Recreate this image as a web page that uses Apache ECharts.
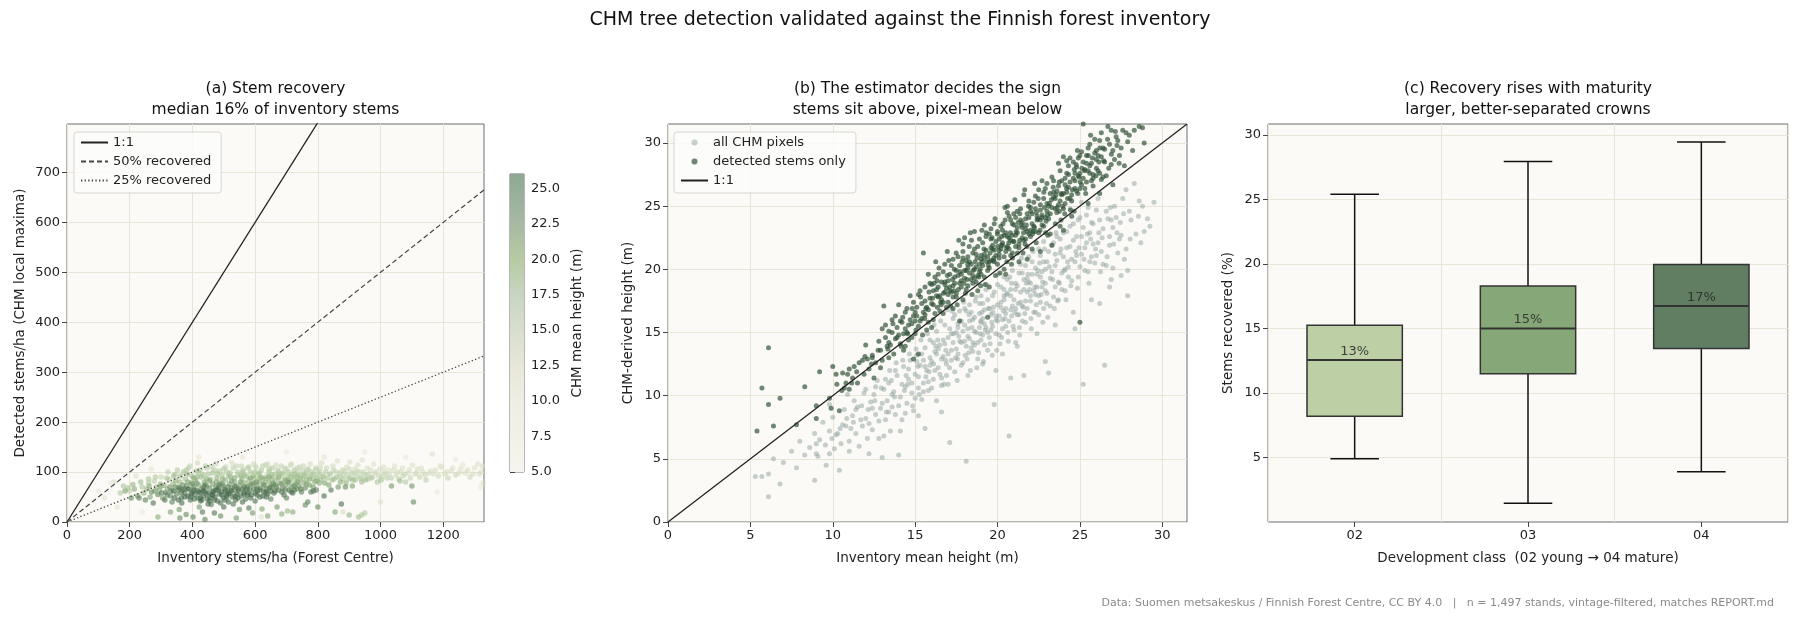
<!DOCTYPE html>
<html>
<head>
<meta charset="utf-8">
<title>CHM tree detection validated against the Finnish forest inventory</title>
<script src="https://cdn.jsdelivr.net/npm/echarts@6/dist/echarts.min.js"></script>
<style>
  html, body { margin: 0; padding: 0; background: #ffffff; }
  #main { width: 1800px; height: 621px; }
</style>
</head>
<body>
<div id="main"></div>
<script>
// ---- data ----
// (a) [inventory stems/ha, detected stems/ha, CHM mean height m]
var stemsA = [
  [150,80,9],[170,58,14],[180,72,15],[195,68,16],[200,62,13],[210,75,17],[225,52,20],[230,48,22],[240,70,15],[245,58,18],
  [255,66,17],[260,78,14],[265,50,19],[270,60,21],[278,82,13],[285,70,16],[290,10,18],[290,55,22],[295,64,19],[300,90,12],
  [305,48,20],[310,73,17],[315,59,23],[320,66,18],[325,85,14],[330,52,21],[335,40,22],[338,76,16],[340,62,24],[345,95,15],
  [350,56,22],[355,70,19],[358,25,20],[360,80,17],[365,48,24],[368,64,21],[372,100,15],[375,58,23],[378,86,16],[380,15,21],
  [382,72,20],[385,52,25],[388,108,13],[390,66,22],[393,44,23],[395,78,18],[398,92,16],[400,60,24],[402,10,22],[405,70,21],
  [408,55,25],[410,84,17],[412,102,14],[415,63,23],[418,48,22],[420,74,19],[422,30,20],[425,58,24],[428,90,16],[430,66,22],
  [432,20,23],[435,52,25],[438,80,18],[440,62,23],[442,112,13],[445,72,20],[448,46,24],[450,96,15],[452,58,25],[455,68,21],
  [458,85,17],[460,35,22],[462,54,24],[465,76,19],[468,62,23],[470,104,14],[472,50,25],[475,70,21],[478,88,17],[480,42,24],
  [482,64,22],[485,56,25],[488,78,18],[490,12,21],[492,60,24],[495,94,15],[498,48,23],[500,72,20],[502,66,23],[505,84,17],
  [508,54,25],[510,100,14],[512,62,22],[515,40,24],[518,76,19],[520,58,23],[522,90,16],[525,68,21],[528,50,25],[530,108,13],
  [532,64,22],[535,80,18],[538,44,24],[540,70,20],[542,56,24],[545,94,15],[548,62,23],[550,25,21],[552,74,19],[555,52,25],
  [558,86,17],[560,66,22],[562,104,14],[565,60,24],[568,78,18],[570,46,23],[572,92,16],[575,70,21],[578,58,24],[580,84,17],
  [583,64,22],[585,100,15],[588,54,23],[590,76,19],[592,18,20],[595,66,22],[598,88,16],[600,58,24],[603,110,13],[605,72,20],
  [608,62,23],[610,96,15],[612,80,18],[615,50,24],[618,68,21],[620,104,14],[622,26,19],[625,86,17],[628,60,23],[630,74,20],
  [633,114,12],[635,66,22],[638,92,16],[640,56,24],[643,80,18],[645,100,15],[648,70,21],[650,62,23],[653,88,17],[655,108,14],
  [658,76,19],[660,58,24],[663,96,15],[665,84,17],[668,70,21],[670,30,20],[672,104,13],[675,64,22],[678,90,16],[680,78,19],
  [683,112,12],[685,16,18],[688,68,21],[690,98,14],[692,54,24],[695,86,17],[698,74,20],[700,106,13],[703,22,17],[705,92,15],
  [708,64,22],[710,80,18],[713,114,12],[715,70,20],[718,96,15],[720,58,23],[723,86,16],[725,104,14],[728,76,19],[730,90,15],
  [733,66,21],[735,100,13],[738,82,17],[740,72,20],[743,110,12],[745,94,15],[748,60,22],[750,86,16],[752,102,13],[755,78,18],
  [758,92,15],[760,68,21],[763,98,14],[765,84,17],[768,40,22],[770,106,12],[773,74,19],[775,92,15],[778,60,23],[780,100,13],
  [783,86,16],[785,70,20],[788,94,14],[790,80,17],[793,104,12],[795,64,22],[798,88,16],[800,30,21],[803,96,14],[805,78,18],
  [808,108,11],[810,84,16],[815,92,14],[820,52,24],[825,100,13],[830,88,15],[835,74,19],[840,96,13],[845,84,16],[850,104,12],
  [855,20,19],[860,90,14],[865,70,20],[870,98,13],[875,36,24],[880,86,15],[885,102,12],[890,78,17],[895,94,13],[900,106,11],
  [905,88,14],[910,72,19],[915,98,12],[920,84,15],[925,102,11],[930,10,16],[935,90,13],[940,80,16],[945,100,12],[950,18,14],
  [955,94,11],[960,86,14],[968,104,10],[975,90,12],[982,98,11],[990,80,15],[998,106,10],[1005,92,12],[1012,100,11],[1020,88,13],
  [1028,96,10],[1035,72,20],[1042,104,10],[1050,94,11],[1058,86,13],[1065,100,10],[1072,92,12],[1080,80,14],[1088,98,10],[1095,88,12],
  [1100,72,20],[1105,40,21],[1110,96,11],[1118,106,9],[1125,90,12],[1135,100,10],[1145,84,13],[1155,98,10],[1165,136,8],[1175,104,9],
  [1185,92,11],[1195,110,9],[1205,96,10],[1215,88,12],[1225,102,9],[1240,94,11],[1255,106,8],[1270,98,10],[1285,90,11],[1300,108,8],
  [1315,96,9],[1325,112,9],[1328,78,10]
];
var stemsA2 = [
  [185,62,19],[205,48,21],[215,66,18],[235,80,16],[250,44,22],[262,72,18],[275,38,23],[282,90,14],[298,76,17],[302,58,22],
  [312,44,24],[318,88,15],[322,100,13],[328,70,20],[332,62,23],[342,48,25],[346,82,18],[352,104,14],[356,64,22],[362,92,16],
  [366,38,24],[370,74,21],[376,50,25],[384,96,16],[386,66,23],[392,112,12],[396,56,25],[404,88,18],[406,46,24],[414,78,20],
  [416,118,11],[420,60,25],[424,104,15],[426,42,23],[434,94,16],[436,70,22],[444,56,25],[446,108,13],[454,82,19],[456,48,24],
  [464,98,15],[466,60,25],[474,116,11],[476,80,19],[484,68,23],[486,102,14],[494,54,25],[496,86,18],[504,44,24],[506,110,12],
  [514,70,22],[516,92,17],[524,62,25],[526,118,10],[534,88,18],[536,52,25],[544,100,14],[546,66,24],[554,80,20],[556,112,12],
  [564,56,25],[566,94,16],[574,66,23],[576,108,13],[584,74,21],[586,48,24],[594,92,17],[596,116,11],[604,80,20],[606,54,25],
  [614,98,15],[616,64,23],[624,112,12],[626,76,21],[634,86,18],[636,50,24],[644,106,14],[646,68,22],[654,94,16],[656,78,20],
  [664,62,23],[666,114,11],[674,88,17],[676,100,14],[684,76,20],[686,96,15],[694,108,12],[696,64,22],[704,84,18],[706,100,14],
  [714,90,16],[716,116,10],[724,72,21],[726,96,15],[734,108,12],[736,80,19],[744,88,16],[746,66,22],[754,112,11],[756,94,15],
  [764,76,19],[766,104,13],[774,86,17],[776,116,10],[784,96,14],[786,62,23],[794,108,12],[796,82,18],[806,100,13],[812,118,10],
  [818,90,15],[822,78,19],[828,108,11],[838,96,13],[842,64,23],[848,112,10],[852,86,16],[858,100,12],[862,122,9],[868,90,14],
  [872,80,18],[878,104,11],[882,94,13],[888,70,21],[892,110,10],[898,86,15],[902,120,9],[908,98,12],[912,84,16],[918,106,10],
  [922,92,13],[928,114,9],[932,100,11],[938,86,14],[942,124,8],[948,94,12],[952,84,16],[958,108,9],[962,96,12],[970,88,14],
  [978,116,8],[986,100,10],[994,92,12],[1002,84,15],[1010,110,9],[1018,96,11],[1026,104,9],[1034,88,13],[1045,112,8],[1055,100,10],
  [1062,82,16],[1070,108,9],[1078,96,11],[1092,104,9],[1102,114,8],[1115,98,10],[1130,108,8],[1142,94,11],[1160,102,9],[1170,96,10],
  [1190,112,8],[1210,100,9],[1230,108,8],[1250,98,10],[1262,114,7],[1278,104,9],[1295,96,10],[1310,116,8],[1320,100,9],
  [100,62,6],[120,48,7],[140,78,6],[160,30,7],[220,92,8],[240,20,6],[268,106,7],[700,140,6],[950,140,6],[1180,60,6],
  [1240,125,6],[1320,70,6],[1080,130,6],[820,130,7],[560,130,7],[420,130,7],[620,10,8],[880,20,9],[1000,40,8],
  [330,20,19],[360,8,21],[440,5,22],[470,18,23],[500,30,24],[540,8,20],[580,28,23],[640,12,19],[720,20,18],[760,34,21],
  [900,14,17],[940,14,15]
];
var stemsA3 = [
  [345,70,21],[365,58,23],[385,80,19],[405,64,24],[425,48,25],[445,86,18],[465,54,25],[485,74,22],[505,62,24],[525,82,20],
  [545,48,25],[565,70,23],[585,88,19],[605,66,22],[625,52,24],[645,90,18],[665,74,21],[685,60,23],[705,80,20],[725,64,22],
  [355,44,24],[375,66,25],[395,50,24],[415,90,17],[435,62,25],[455,42,24],[475,64,24],[495,76,21],[515,56,25],[535,72,23],
  [555,92,17],[575,54,24],[595,78,20],[615,88,18],[635,60,24],[655,70,21],[675,94,16],[695,82,18],[715,60,23],[735,92,16],
  [260,86,15],[280,62,20],[300,72,19],[320,54,22],[340,92,16],[360,68,23],[380,104,14],[400,76,21],[420,98,15],[440,74,22],
  [460,110,13],[480,96,16],[500,106,14],[520,98,15],[540,112,12],[560,100,15],[580,110,13],[600,100,15],[620,90,17],[640,116,11],
  [430,44,25],[450,36,24],[470,44,25],[490,38,24],[510,50,24],[530,36,23],[560,40,24],[600,42,23],[650,46,22],[700,48,22]
];
var recov11 = [[0, 0], [1330, 1330]];
var recov50 = [[0, 0], [1330, 665]];
var recov25 = [[0, 0], [1330, 332.5]];
var colorbarSpan = [[0, 5, 26]];

// (b) [inventory mean height, CHM-derived height]
var pixelMean = [
  [5.3,3.6],[5.7,3.6],[6.1,3.8],[6.1,2.0],[6.4,5.0],[6.8,3.0],[7.8,4.3],[8.3,5.3],[8.9,3.3],[9.0,5.4],
  [9.1,5.2],[9.8,5.4],[8.9,7.0],[9.0,6.2],[9.2,6.5],[9.8,7.2],[10.1,5.8],[10.4,4.1],[10.5,6.2],[10.6,7.7],
  [10.8,7.6],[11.0,6.4],[11.2,8.4],[11.4,7.0],[11.5,9.1],[11.6,6.0],[11.8,7.6],[12.0,8.2],[12.1,6.6],[12.3,9.5],
  [12.4,7.3],[12.5,10.1],[12.6,8.5],[12.8,6.6],[12.9,9.0],[13.0,5.1],[13.1,10.5],[13.2,8.1],[13.3,9.6],[13.4,11.0],
  [13.5,7.2],[13.6,9.1],[13.7,10.3],[13.8,8.5],[13.9,11.6],[14.0,5.3],[14.1,9.9],[14.2,8.1],[14.3,12.3],[14.4,10.7],
  [14.5,9.4],[14.6,11.3],[14.7,12.8],[14.8,10.2],[14.9,8.8],[15.0,11.7],[15.1,13.2],[15.2,10.6],[15.3,12.4],[15.4,9.7],
  [15.5,11.0],[15.6,13.8],[15.7,12.0],[15.8,10.4],[15.9,14.4],[16.0,12.7],[16.1,11.3],[16.2,13.5],[16.3,15.1],[16.4,12.2],
  [16.5,14.0],[16.6,10.8],[16.7,13.1],[16.8,15.6],[16.9,12.5],[17.0,14.6],[17.1,6.3],[17.2,13.6],[17.3,16.1],[17.4,11.9],
  [17.5,15.0],[17.6,13.3],[17.7,16.7],[17.8,14.2],[17.9,12.6],[18.0,15.6],[18.1,4.8],[18.2,14.7],[18.3,17.2],[18.4,13.8],
  [18.5,16.0],[18.6,15.1],[18.7,17.8],[18.8,12.9],[18.9,16.5],[19.0,14.4],[19.1,17.3],[19.2,15.7],[19.3,18.4],[19.4,13.6],
  [19.5,16.9],[19.6,15.2],[19.7,17.9],[19.8,9.3],[19.9,16.3],[20.0,18.8],[20.1,14.8],[20.2,17.4],[20.3,16.0],[20.4,19.4],
  [20.5,15.5],[20.6,18.1],[20.7,6.8],[20.8,16.8],[20.9,19.9],[21.0,17.6],[21.1,14.2],[21.2,18.7],[21.3,16.4],[21.4,20.4],
  [21.5,17.1],[21.6,19.2],[21.7,15.8],[21.8,18.2],[21.9,21.0],[22.0,17.9],[22.1,19.6],[22.2,16.6],[22.3,20.1],[22.4,18.6],
  [22.5,21.6],[22.6,17.4],[22.7,19.8],[22.8,22.2],[22.9,18.9],[23.0,20.6],[23.1,11.8],[23.2,19.3],[23.3,21.9],[23.4,17.8],
  [23.5,20.3],[23.6,22.6],[23.7,19.0],[23.8,21.3],[23.9,18.4],[24.0,22.9],[24.1,20.0],[24.2,21.7],[24.3,19.4],[24.4,23.4],
  [24.5,20.8],[24.6,22.3],[24.7,15.3],[24.8,21.1],[24.9,23.9],[25.0,20.2],[25.1,22.6],[25.2,10.9],[25.3,21.7],[25.4,24.3],
  [25.5,19.8],[25.6,22.9],[25.7,21.0],[25.8,23.6],[25.9,20.5],[26.0,24.7],[26.1,22.1],[26.2,17.3],[26.3,21.4],[26.4,23.2],
  [26.5,12.4],[26.6,20.3],[26.7,24.0],[26.8,21.9],[26.9,19.2],[27.0,23.3],[27.1,25.0],[27.3,21.3],[27.5,22.7],[27.7,20.8],
  [27.9,19.9],[28.1,23.9],[28.3,26.8],[28.6,25.4],[28.9,23.0],[29.5,25.3],[28.7,22.1],[27.8,26.3],[10.9,10.1],[9.8,9.3],
  [12.0,10.5],[12.7,11.2],[17.2,14.9],[17.6,15.4],[18.0,14.3],[18.3,15.9],[18.6,14.0],[18.9,15.4],[19.1,16.1],[19.4,15.0],
  [19.7,16.6],[20.0,15.9],[20.2,17.0],[20.5,16.5],[20.8,17.9],[21.1,16.9],[21.4,18.2],[21.7,17.5],[22.0,18.9],[22.3,18.0],
  [22.6,19.4],[22.9,18.3],[16.7,14.4],[16.3,13.3],[15.9,12.4],[15.5,12.8],[18.1,16.7],[19.0,17.9],[20.4,18.4],[21.5,19.7],
  [22.8,20.6],[23.5,21.2]
];
var pixelMean2 = [
  [10.3,7.0],[10.7,8.9],[11.1,7.4],[11.3,9.6],[11.7,8.1],[11.9,10.2],[12.2,7.8],[12.4,9.0],[12.6,10.7],[12.8,8.0],
  [13.0,9.4],[13.2,11.3],[13.4,8.7],[13.6,10.1],[13.8,12.0],[14.0,9.2],[14.2,10.9],[14.4,8.6],[14.6,12.1],[14.8,11.0],
  [15.0,9.8],[15.1,12.7],[15.2,11.5],[15.4,13.3],[15.5,10.3],[15.6,12.3],[15.8,11.1],[15.9,13.0],[16.0,10.6],[16.1,14.2],
  [16.2,12.0],[16.4,13.7],[16.5,11.7],[16.6,12.9],[16.8,14.1],[16.9,11.6],[17.0,13.3],[17.1,15.3],[17.2,12.8],[17.3,14.2],
  [17.4,16.4],[17.5,13.7],[17.6,15.7],[17.7,14.3],[17.8,12.4],[17.9,15.1],[18.0,16.9],[18.1,13.9],[18.2,15.3],[18.3,14.5],
  [18.4,16.6],[18.5,13.5],[18.6,16.2],[18.7,15.0],[18.8,14.2],[18.9,17.3],[19.0,15.8],[19.1,14.8],[19.2,16.8],[19.3,15.4],
  [19.4,17.6],[19.5,14.6],[19.6,16.4],[19.7,15.5],[19.8,18.2],[19.9,14.9],[20.0,17.2],[20.1,16.3],[20.2,18.6],[20.3,15.3],
  [20.4,17.6],[20.5,16.9],[20.6,19.2],[20.7,15.9],[20.8,18.4],[20.9,17.1],[21.0,15.2],[21.1,18.9],[21.2,16.4],[21.3,19.7],
  [21.4,17.4],[21.5,15.9],[21.6,18.4],[21.7,20.3],[21.8,16.9],[21.9,19.0],[22.0,17.5],[22.1,20.6],[22.2,18.3],[22.3,16.6],
  [22.4,19.6],[22.5,17.9],[22.6,21.1],[22.7,18.6],[22.8,16.9],[22.9,20.0],[23.0,18.1],[23.1,21.4],[23.2,17.1],[23.3,19.8],
  [23.4,22.1],[23.5,18.6],[23.6,20.7],[23.7,17.6],[23.8,22.4],[23.9,19.7],[24.0,21.0],[24.1,18.3],[24.2,23.0],[24.3,20.2],
  [24.4,21.8],[24.5,19.1],[24.6,23.6],[24.7,20.6],[24.8,22.6],[24.9,19.4],[25.0,24.1],[25.1,21.2],[25.2,23.3],[25.3,19.9],
  [25.4,22.1],[25.5,24.9],[25.6,20.6],[25.7,23.7],[25.8,22.0],[26.0,21.1],[26.2,23.9],[26.4,20.4],[26.6,24.6],[26.8,22.6],
  [27.0,20.1],[27.2,24.1],[27.4,22.4],[27.6,25.6],[27.8,21.6],[28.0,24.6],[28.4,22.8],[28.8,25.0],[29.1,24.0],[27.5,19.5],
  [26.9,23.9],[26.1,25.6],[25.1,25.3],[24.4,24.8],[7.0,4.7],[7.5,5.6],[8.0,6.4],[8.6,5.9],[9.4,7.9],[9.6,4.5],
  [10.0,8.3],[10.2,6.9],[11.0,5.6],[11.4,8.9],[12.2,5.4],[13.1,6.8],[14.1,7.2],[15.2,8.4],[16.3,9.6],[17.0,10.9],
  [18.2,11.6],[19.1,12.5],[20.3,13.3],[21.2,13.9],[22.4,14.9],[23.5,15.6],[24.6,16.6],[25.7,17.6],[26.8,18.6],[27.9,17.9],
  [19.9,12.0],[21.6,11.6],[20.8,11.4],[22.9,12.7],[16.6,8.7],[15.6,7.4]
];
var pixelMean3 = [
  [16.12,12.5],[16.37,14.4],[16.61,11.4],[16.86,13.6],[17.09,12.2],[17.33,14.9],[17.57,12.9],[17.81,15.9],[18.04,13.2],[18.27,16.4],
  [18.51,14.2],[18.74,12.2],[18.98,15.9],[19.21,14.0],[19.45,16.9],[19.68,13.2],[19.92,16.0],[20.15,14.1],[20.39,17.9],[20.62,15.0],
  [20.86,16.3],[21.09,18.4],[21.33,15.4],[21.56,17.0],[21.8,19.3],[22.03,16.1],[22.27,18.6],[22.5,16.4],[22.74,19.0],[22.97,17.3],
  [17.25,16.7],[17.95,17.4],[18.65,17.5],[19.35,18.8],[20.05,19.6],[20.75,19.4],[21.45,20.9],[22.15,21.4],[22.85,21.6],[23.55,22.9],
  [15.35,14.4],[15.75,14.9],[16.15,15.6],[16.55,15.9],[16.95,16.8],[15.05,13.7],[14.65,13.3],[14.25,12.8],[13.85,12.6],[13.45,12.0],
  [17.45,13.0],[18.15,12.9],[18.85,13.4],[19.55,14.1],[20.25,14.6],[20.95,15.5],[21.65,16.5],[22.35,17.2],[23.05,16.2],[23.75,18.9],
  [16.75,10.9],[17.55,11.2],[18.35,12.0],[19.15,12.7],[19.95,13.6],[20.65,14.3],[21.35,14.8],[22.05,15.3],[22.75,15.8],[23.45,16.9],
  [24.15,17.6],[24.85,18.5],[25.55,18.9],[26.25,19.8],[24.05,19.9],[24.75,21.4],[25.45,22.8],[26.15,22.9],[26.85,24.9],[27.45,23.7],
  [13.25,8.7],[13.75,9.9],[14.35,10.4],[14.85,9.2],[15.25,10.1],[15.85,11.9],[12.55,9.6],[12.15,8.9],[11.75,9.2],[11.25,7.9],
  [10.85,8.2],[10.45,7.4],[9.95,6.6],[9.55,6.1],[12.95,10.6],[13.55,11.2],[14.45,11.6],[18.45,15.4],[19.25,15.2],[20.45,16.1],
  [21.25,17.3],[21.95,18.4],[22.65,18.0],[23.35,19.2],[24.25,20.6],[24.95,21.7],[25.65,22.4],[26.35,22.5],[27.05,22.0],[27.65,24.4],
  [19.05,16.6],[19.75,17.0],[20.55,18.0],[21.05,16.6],[21.75,18.9],[22.45,19.9],[23.15,20.2],[23.85,21.6],[17.65,14.7],[18.25,13.4],
  [18.95,14.9],[19.65,15.8],[20.35,16.7],[16.25,13.9],[16.85,12.8],[15.65,11.5],[15.15,12.3],[14.55,10.9],[23.65,17.5],[24.45,18.7],
  [25.25,20.8],[25.95,21.6],[26.65,21.0],[27.25,22.9],[28.05,22.4],[28.55,24.2],[29.25,23.4],[22.55,20.5],[21.85,19.6],[20.85,18.9]
];
var stemsOnly = [
  [5.4,7.2],[5.7,10.6],[6.1,13.8],[6.1,9.3],[6.4,7.6],[6.8,9.8],[7.8,7.7],[8.3,10.7],[9.0,9.2],[9.0,8.2],
  [9.2,11.9],[9.8,9.8],[9.9,9.0],[10.0,12.3],[10.2,11.7],[10.4,8.8],[10.6,11.8],[10.8,11.0],[11.0,10.5],[11.2,11.4],
  [11.3,12.3],[11.5,11.0],[11.6,12.6],[11.9,11.7],[12.1,12.9],[12.2,12.1],[12.4,13.2],[12.5,11.4],[12.6,12.6],[12.8,14.3],
  [12.9,13.6],[13.0,12.8],[13.1,17.1],[13.2,14.6],[13.3,13.9],[13.4,15.1],[13.5,14.0],[13.6,16.0],[13.7,13.3],[13.8,14.5],
  [13.9,15.4],[14.0,17.2],[14.1,14.1],[14.2,15.8],[14.3,13.6],[14.4,16.6],[14.5,15.0],[14.6,14.4],[14.7,17.9],[14.8,15.7],
  [14.9,16.3],[15.0,14.9],[15.1,17.0],[15.2,15.5],[15.3,18.3],[15.4,16.1],[15.5,21.3],[15.6,17.5],[15.7,15.2],[15.8,16.8],
  [15.9,18.9],[16.0,17.3],[16.1,16.0],[16.2,19.4],[16.3,17.9],[16.4,18.6],[16.5,16.7],[16.6,17.6],[16.7,19.8],[16.8,18.2],
  [16.9,17.0],[17.0,19.1],[17.1,18.6],[17.2,20.3],[17.3,17.8],[17.4,19.4],[17.5,18.1],[17.6,21.0],[17.7,18.9],[17.8,19.6],
  [17.9,17.6],[18.0,22.5],[18.1,19.9],[18.2,18.7],[18.3,20.6],[18.4,19.2],[18.5,21.3],[18.6,20.0],[18.7,19.0],[18.8,21.8],
  [18.9,20.4],[19.0,19.6],[19.1,22.1],[19.2,20.9],[19.3,21.5],[19.4,19.9],[19.5,22.8],[19.6,20.7],[19.7,21.9],[19.8,23.6],
  [19.9,21.1],[20.0,20.4],[20.1,22.4],[20.2,21.6],[20.3,23.1],[20.4,21.0],[20.5,22.9],[20.6,21.8],[20.7,24.2],[20.8,22.3],
  [20.9,21.3],[21.0,23.5],[21.1,22.7],[21.2,24.6],[21.3,22.0],[21.4,23.9],[21.5,22.5],[21.6,25.9],[21.7,23.2],[21.8,24.4],
  [21.9,22.8],[22.0,24.9],[22.1,23.6],[22.2,25.3],[22.3,23.0],[22.4,24.2],[22.5,26.3],[22.6,24.7],[22.7,23.5],[22.8,25.6],
  [22.9,24.1],[23.0,26.8],[23.1,25.0],[23.2,24.4],[23.3,27.3],[23.4,25.7],[23.5,24.8],[23.6,26.2],[23.7,28.4],[23.8,25.4],
  [23.9,27.0],[24.0,26.0],[24.1,25.2],[24.2,27.6],[24.3,26.5],[24.4,28.8],[24.5,25.9],[24.6,27.2],[24.7,26.4],[24.8,28.1],
  [24.9,27.4],[25.0,29.0],[25.1,26.7],[25.2,28.5],[25.3,27.9],[25.4,26.9],[25.5,29.6],[25.6,28.2],[25.8,27.5],[25.9,29.2],
  [26.0,28.7],[26.1,27.8],[26.2,30.2],[26.3,28.9],[26.4,27.3],[26.5,29.5],[26.7,31.3],[26.9,28.3],[27.0,29.4],[27.2,30.5],
  [27.4,29.0],[27.6,31.0],[27.9,30.1],[28.6,31.3],[28.8,31.2],[25.2,31.5],[19.4,16.2],[20.5,19.6],[24.0,23.1],[17.7,15.9],
  [15.2,13.3],[21.8,20.8],[23.3,21.9],[25.0,15.8],[22.6,21.4],[14.9,12.9],[16.4,17.8],[17.0,18.0],[17.5,19.9],[18.0,19.3],
  [18.2,20.1],[18.5,19.5],[18.9,19.8],[19.2,21.2],[19.5,20.6],[19.8,21.5],[20.1,21.2],[20.3,22.1],[20.6,22.6],[20.9,22.7],
  [21.2,23.3],[21.5,23.7],[21.7,22.4],[22.0,23.1],[22.3,24.8],[22.6,23.9],[23.0,24.6],[23.4,26.1],[23.7,25.1],[24.1,26.7],
  [24.4,25.6],[24.7,27.6],[25.0,26.4],[25.4,28.4],[25.7,27.0],[26.0,29.4],[16.8,19.0],[17.3,18.7],[17.9,20.9],[18.7,21.2],
  [19.0,20.8],[19.6,22.4],[20.0,23.0],[20.8,23.9],[21.1,21.8],[21.9,24.1],[15.0,16.6],[15.6,16.4],[16.1,18.3],[14.4,15.3],
  [13.9,14.6]
];
var stemsOnly2 = [
  [13.2,15.6],[13.4,14.2],[13.6,15.0],[13.8,16.3],[14.0,14.8],[14.1,15.9],[14.3,14.9],[14.5,16.9],[14.6,15.6],[14.8,14.6],
  [14.9,17.4],[15.0,15.9],[15.1,16.3],[15.2,18.0],[15.3,15.9],[15.4,17.3],[15.5,16.6],[15.6,18.6],[15.7,17.0],[15.8,15.8],
  [15.9,17.7],[16.0,18.8],[16.1,17.2],[16.2,16.5],[16.3,18.4],[16.4,19.6],[16.5,17.9],[16.6,19.0],[16.7,17.4],[16.8,20.4],
  [16.9,18.5],[17.0,17.4],[17.1,19.6],[17.2,18.2],[17.3,20.8],[17.4,18.9],[17.5,17.8],[17.6,19.5],[17.7,20.3],[17.8,18.6],
  [17.9,21.4],[18.0,19.9],[18.1,18.4],[18.2,21.0],[18.3,19.7],[18.4,20.4],[18.5,18.9],[18.6,21.6],[18.7,20.2],[18.8,19.5],
  [18.9,22.4],[19.0,21.1],[19.1,20.3],[19.2,19.4],[19.3,22.6],[19.4,21.0],[19.5,20.1],[19.6,23.2],[19.7,21.6],[19.8,20.6],
  [19.9,22.2],[20.0,21.8],[20.1,20.9],[20.2,23.4],[20.3,21.9],[20.4,22.7],[20.5,21.4],[20.6,24.5],[20.7,22.5],[20.8,21.1],
  [20.9,23.6],[21.0,22.2],[21.1,24.1],[21.2,22.9],[21.3,21.7],[21.4,24.8],[21.5,23.3],[21.6,22.3],[21.7,24.0],[21.8,23.0],
  [21.9,25.4],[22.0,22.6],[22.1,24.4],[22.2,23.4],[22.3,25.8],[22.4,23.9],[22.5,22.9],[22.6,25.1],[22.7,24.3],[22.8,23.4],
  [22.9,26.4],[23.0,25.2],[23.1,24.0],[23.2,26.0],[23.3,24.9],[23.4,27.0],[23.5,25.6],[23.6,24.5],[23.7,26.6],[23.8,27.8],
  [23.9,25.9],[24.0,24.8],[24.1,27.2],[24.2,26.1],[24.3,28.2],[24.4,26.9],[24.5,25.4],[24.6,28.5],[24.7,27.0],[24.8,26.2],
  [24.9,28.8],[25.0,27.6],[25.1,29.3],[25.2,27.2],[25.3,26.4],[25.4,29.0],[25.5,27.8],[25.6,29.9],[25.7,28.4],[25.8,27.2],
  [25.9,30.3],[26.0,28.0],[26.1,29.0],[26.2,27.6],[26.3,30.8],[26.4,29.6],[26.5,28.5],[26.6,27.4],[26.8,29.9],[26.9,31.0],
  [27.1,28.7],[27.3,30.2],[27.5,29.6],[27.7,28.2],[28.0,30.6],[28.2,29.4],[28.9,30.0],[27.0,26.7],[26.2,26.0],[25.5,25.2],
  [12.0,14.0],[12.4,13.0],[11.8,12.8],[11.0,12.1],[10.7,10.6],[12.9,12.2],[13.4,13.0],[16.7,16.5],[18.8,18.3],[20.4,20.0],
  [22.1,21.6],[23.8,23.4],[19.5,18.6],[17.3,16.9],[21.3,20.6],[23.2,22.8],[24.5,24.2],[16.0,15.4],[14.4,13.9],[13.0,15.3],
  [15.8,19.6],[17.9,22.0],[19.2,23.5],[20.6,25.0],[18.6,23.0],[22.7,27.0],[24.0,28.9]
];
var stemsOnly3 = [
  [16.15,18.9],[16.45,20.1],[16.72,18.1],[16.95,19.5],[17.15,17.1],[17.38,20.0],[17.62,18.4],[17.85,20.6],[18.05,18.1],[18.28,21.8],
  [18.52,19.9],[18.76,20.9],[18.97,18.7],[19.18,21.6],[19.44,20.3],[19.67,22.5],[19.88,19.5],[20.09,21.5],[20.33,23.6],[20.57,20.6],
  [20.78,22.9],[20.99,24.4],[21.21,21.3],[21.46,23.5],[21.67,22.0],[21.88,25.0],[22.12,22.8],[22.36,24.5],[22.58,23.1],[22.81,26.1],
  [23.03,24.3],[23.27,25.5],[23.51,23.6],[23.74,26.9],[23.96,25.0],[24.19,26.4],[24.43,24.7],[24.66,27.9],[24.87,26.0],[25.12,28.0],
  [16.05,17.7],[16.33,19.1],[16.58,17.2],[16.81,18.8],[17.04,20.7],[17.27,19.2],[17.49,21.3],[17.73,19.8],[17.96,18.9],[18.19,20.4],
  [18.42,22.3],[18.64,20.6],[18.86,19.4],[19.07,20.6],[19.31,22.9],[19.55,21.3],[19.78,20.9],[19.99,22.8],[20.22,21.9],[20.46,23.9],
  [20.68,22.1],[20.91,20.9],[21.13,23.0],[21.35,24.4],[21.58,22.9],[21.79,21.8],[22.01,24.6],[22.24,23.3],[22.47,25.6],[22.69,24.1],
  [22.92,22.9],[23.15,25.2],[23.38,26.5],[23.62,24.9],[23.86,26.0],[24.08,24.4],[24.31,27.5],[24.54,26.3],[24.77,28.3],[25.02,26.9],
  [14.25,16.2],[14.55,14.9],[14.82,16.9],[15.05,15.2],[15.33,17.8],[15.58,16.1],[15.84,18.2],[14.15,13.9],[14.7,16.0],[15.45,14.8],
  [13.65,15.7],[13.35,13.7],[12.75,13.6],[12.35,12.5],[11.95,13.1],[11.45,11.9],[11.15,11.0],[10.9,11.7],[10.55,10.4],[10.25,10.9],
  [25.28,27.8],[25.51,29.0],[25.76,28.8],[25.98,27.4],[26.21,29.6],[26.44,28.6],[26.68,30.3],[26.91,29.1],[27.15,30.9],[27.38,28.4],
  [25.35,26.0],[25.8,26.6],[26.3,27.1],[26.75,28.0],[27.25,29.8],[27.8,30.8],[28.3,31.0],[25.65,30.6],[24.85,29.4],[24.2,28.6],
  [19.05,23.1],[19.85,24.0],[20.45,24.9],[21.05,25.5],[21.65,26.3],[22.25,26.8],[18.35,22.9],[17.65,22.3],[16.95,21.4],[16.25,20.6],
  [20.15,19.7],[20.85,20.4],[21.55,21.3],[22.35,22.1],[23.05,22.7],[23.85,23.9],[24.65,24.6],[19.25,18.8],[18.45,18.0],[17.55,17.2],
  [18.15,19.2],[18.95,20.0],[19.75,20.7],[20.55,21.7],[21.35,22.3],[22.15,23.0],[22.95,23.8],[23.75,24.6],[17.35,18.3],[16.55,17.4],
  [19.6,21.7],[20.25,22.6],[20.7,21.6],[21.25,23.7],[21.75,23.5],[22.45,24.0],[18.6,19.3],[18.1,20.7],[19.35,20.6],[20.95,22.2],
  [17.8,19.1],[17.1,18.3],[16.35,17.0],[15.65,16.9],[22.85,24.9],[23.55,25.9],[24.25,25.6],[24.95,27.3],[25.6,27.6],[26.15,28.5]
];
var oneToOneB = [[0, 0], [31.5, 31.5]];

// (c) development class boxplots
var devClasses = ['02', '03', '04'];
var recovLow  = [4.9, 1.45, 3.9];
var recovQ1   = [8.2, 11.5, 13.45];
var recovMed  = [12.55, 15.0, 16.75];
var recovQ3   = [15.25, 18.3, 19.95];
var recovHigh = [25.4, 27.95, 29.45];
var boxColors = ['#bccfa5', '#86a878', '#617d62'];

// tick labels
var ticksAx = [0, 200, 400, 600, 800, 1000, 1200];
var ticksAy = [0, 100, 200, 300, 400, 500, 600, 700];
var ticksCbar = [5, 7.5, 10, 12.5, 15, 17.5, 20, 22.5, 25];
var ticksB = [0, 5, 10, 15, 20, 25, 30];
var ticksCy = [5, 10, 15, 20, 25, 30];

// ---- chart ----
var FONT = 'DejaVu Sans';
var INK = '#222222';
var GRIDLINE = '#e7e4d8';
var PLOTBG = '#fbfaf6';
var SPINE = '#6e6e6e';

var boxData = devClasses.map(function (c, i) {
  return [c, recovLow[i], recovQ1[i], recovMed[i], recovQ3[i], recovHigh[i]];
});

function valueAxis(gridIndex, min, max, interval, ticks, name, gap, extra) {
  var ax = {
    gridIndex: gridIndex, type: 'value', min: min, max: max, interval: interval,
    name: name, nameLocation: 'middle', nameGap: gap,
    nameTextStyle: { fontFamily: FONT, fontSize: 13.5, color: INK },
    axisLine: { show: false },
    axisTick: { show: true, length: 5, customValues: ticks, lineStyle: { color: '#444', width: 1 } },
    axisLabel: {
      fontFamily: FONT, fontSize: 13, color: INK, margin: 7, customValues: ticks,
      formatter: function (v) { return String(v); }
    },
    splitLine: { show: true, lineStyle: { color: GRIDLINE, width: 1 } }
  };
  if (extra) { for (var k in extra) ax[k] = extra[k]; }
  return ax;
}

// legend entries for plain lines: hide the marker that ECharts adds to line icons
var noMarker = { opacity: 0, color: 'rgba(0,0,0,0)', borderWidth: 0 };
var legendFrame = {
  orient: 'vertical', itemWidth: 27, itemGap: 4, padding: [3, 10, 5, 6],
  backgroundColor: 'rgba(252,252,250,0.85)', borderColor: '#d6d6d2', borderWidth: 1, borderRadius: 3,
  textStyle: { fontFamily: FONT, fontSize: 13, color: INK, lineHeight: 15 }
};

var chart = echarts.init(document.getElementById('main'), null, { renderer: 'canvas' });

var option = {
  backgroundColor: '#ffffff',
  animation: false,
  textStyle: { fontFamily: FONT },
  graphic: [
    { type: 'text', x: 900, y: 20, style: { text: 'CHM tree detection validated against the Finnish forest inventory',
      fontFamily: FONT, fontSize: 19, fill: '#111', textAlign: 'center', textVerticalAlign: 'middle' } },
    { type: 'text', x: 275.5, y: 99, style: { text: '(a) Stem recovery\nmedian 16% of inventory stems',
      fontFamily: FONT, fontSize: 15.5, lineHeight: 21, fill: '#111', textAlign: 'center', textVerticalAlign: 'middle' } },
    { type: 'text', x: 927.5, y: 99, style: { text: '(b) The estimator decides the sign\nstems sit above, pixel-mean below',
      fontFamily: FONT, fontSize: 15.5, lineHeight: 21, fill: '#111', textAlign: 'center', textVerticalAlign: 'middle' } },
    { type: 'text', x: 1528, y: 99, style: { text: '(c) Recovery rises with maturity\nlarger, better-separated crowns',
      fontFamily: FONT, fontSize: 15.5, lineHeight: 21, fill: '#111', textAlign: 'center', textVerticalAlign: 'middle' } },
    { type: 'text', x: 1774, y: 603, style: { text: 'Data: Suomen metsakeskus / Finnish Forest Centre, CC BY 4.0   |   n = 1,497 stands, vintage-filtered, matches REPORT.md',
      fontFamily: FONT, fontSize: 11, fill: '#8a8a8a', textAlign: 'right', textVerticalAlign: 'middle' } }
  ],
  grid: [
    { left: 67, top: 124, width: 417, height: 398, show: true, backgroundColor: PLOTBG, borderColor: SPINE, borderWidth: 1 },
    { left: 510, top: 174, width: 14, height: 298, show: true, backgroundColor: 'transparent', borderColor: SPINE, borderWidth: 1 },
    { left: 668, top: 124, width: 519, height: 398, show: true, backgroundColor: PLOTBG, borderColor: SPINE, borderWidth: 1 },
    { left: 1268, top: 124, width: 520, height: 398, show: true, backgroundColor: PLOTBG, borderColor: SPINE, borderWidth: 1 }
  ],
  xAxis: [
    valueAxis(0, 0, 1330, 200, ticksAx, 'Inventory stems/ha (Forest Centre)', 29),
    { gridIndex: 1, type: 'value', min: 0, max: 1, show: false },
    valueAxis(2, 0, 31.5, 5, ticksB, 'Inventory mean height (m)', 29),
    {
      gridIndex: 3, type: 'category', data: devClasses,
      name: 'Development class  (02 young \u2192 04 mature)', nameLocation: 'middle', nameGap: 29,
      nameTextStyle: { fontFamily: FONT, fontSize: 13.5, color: INK },
      axisLine: { show: false },
      axisTick: { show: true, alignWithLabel: true, length: 5, lineStyle: { color: '#444' } },
      axisLabel: { fontFamily: FONT, fontSize: 13, color: INK, margin: 7 },
      splitLine: { show: true, lineStyle: { color: GRIDLINE, width: 1 } }
    }
  ],
  yAxis: [
    valueAxis(0, 0, 797, 100, ticksAy, 'Detected stems/ha (CHM local maxima)', 40),
    valueAxis(1, 5, 26, 2.5, ticksCbar, 'CHM mean height (m)', 46, {
      position: 'right', splitLine: { show: false },
      axisLabel: { fontFamily: FONT, fontSize: 13, color: INK, margin: 7, customValues: ticksCbar,
        formatter: function (v) { return v.toFixed(1); } },
      nameRotate: 90
    }),
    valueAxis(2, 0, 31.5, 5, ticksB, 'CHM-derived height (m)', 33),
    valueAxis(3, 0, 30.85, 5, ticksCy, 'Stems recovered (%)', 33)
  ],
  visualMap: [{
    show: false, type: 'continuous', seriesIndex: 0, dimension: 2, min: 5, max: 26,
    inRange: { color: ['#efede2', '#e2e1cc', '#d0dbbf', '#b9ceaa', '#a2bf90', '#86a873', '#628a5c', '#46694a', '#3f6247'] }
  }],
  legend: [
    Object.assign({}, legendFrame, {
      left: 74, top: 132, itemHeight: 10,
      data: [
        { name: '1:1', itemStyle: noMarker },
        { name: '50% recovered', itemStyle: noMarker },
        { name: '25% recovered', itemStyle: noMarker }
      ]
    }),
    Object.assign({}, legendFrame, {
      left: 674, top: 132, itemHeight: 6,
      data: ['all CHM pixels', 'detected stems only', { name: '1:1', itemStyle: noMarker }]
    })
  ],
  series: [
    {
      name: 'stems', type: 'scatter', xAxisIndex: 0, yAxisIndex: 0, data: stemsA.concat(stemsA2, stemsA3),
      symbolSize: 5.5, itemStyle: { opacity: 0.58 }, z: 3
    },
    {
      name: '1:1', type: 'line', xAxisIndex: 0, yAxisIndex: 0, data: recov11, symbol: 'none', clip: true,
      itemStyle: { color: '#222' }, lineStyle: { color: '#222', width: 1.3, type: 'solid' }, z: 4
    },
    {
      name: '50% recovered', type: 'line', xAxisIndex: 0, yAxisIndex: 0, data: recov50, symbol: 'none', clip: true,
      itemStyle: { color: '#444' }, lineStyle: { color: '#444', width: 1.2, type: [5, 3] }, z: 4
    },
    {
      name: '25% recovered', type: 'line', xAxisIndex: 0, yAxisIndex: 0, data: recov25, symbol: 'none', clip: true,
      itemStyle: { color: '#444' }, lineStyle: { color: '#444', width: 1.3, type: [1.3, 2.3] }, z: 4
    },
    {
      name: 'colorbar', type: 'custom', xAxisIndex: 1, yAxisIndex: 1, data: colorbarSpan, silent: true,
      renderItem: function (params, api) {
        var p0 = api.coord([0, api.value(1)]);
        var p1 = api.coord([1, api.value(2)]);
        return {
          type: 'rect',
          shape: { x: p0[0], y: p1[1], width: p1[0] - p0[0], height: p0[1] - p1[1] },
          style: {
            fill: new echarts.graphic.LinearGradient(0, 1, 0, 0, [
              { offset: 0.00, color: '#f5f4ee' },
              { offset: 0.24, color: '#efeee5' },
              { offset: 0.36, color: '#e7e6d8' },
              { offset: 0.48, color: '#d7dfcc' },
              { offset: 0.60, color: '#c8d4c1' },
              { offset: 0.71, color: '#b7cba3' },
              { offset: 0.83, color: '#a7baa3' },
              { offset: 0.95, color: '#96ad9a' },
              { offset: 1.00, color: '#90a795' }
            ])
          }
        };
      }
    },
    {
      name: 'all CHM pixels', type: 'scatter', xAxisIndex: 2, yAxisIndex: 2, data: pixelMean.concat(pixelMean2, pixelMean3),
      symbolSize: 5, itemStyle: { color: '#8fa2a0', opacity: 0.5 }, z: 3
    },
    {
      name: 'detected stems only', type: 'scatter', xAxisIndex: 2, yAxisIndex: 2, data: stemsOnly.concat(stemsOnly2, stemsOnly3),
      symbolSize: 5, itemStyle: { color: '#2c4e33', opacity: 0.68 }, z: 3
    },
    {
      name: '1:1', type: 'line', xAxisIndex: 2, yAxisIndex: 2, data: oneToOneB, symbol: 'none', clip: true,
      itemStyle: { color: '#222' }, lineStyle: { color: '#222', width: 1.3 }, z: 4
    },
    {
      name: 'recovery', type: 'custom', xAxisIndex: 3, yAxisIndex: 3, data: boxData,
      encode: { x: 0, y: [1, 2, 3, 4, 5] },
      renderItem: function (params, api) {
        var i = api.value(0);
        var lo = api.value(1), q1 = api.value(2), med = api.value(3), q3 = api.value(4), hi = api.value(5);
        var band = api.size([1, 0])[0];
        var halfBox = band * 0.275, halfCap = band * 0.14;
        var cx = api.coord([i, med])[0];
        var yLo = api.coord([i, lo])[1], yQ1 = api.coord([i, q1])[1], yMed = api.coord([i, med])[1];
        var yQ3 = api.coord([i, q3])[1], yHi = api.coord([i, hi])[1];
        var whisk = { stroke: '#111', lineWidth: 1.5 };
        return {
          type: 'group',
          children: [
            { type: 'line', shape: { x1: cx, y1: yQ3, x2: cx, y2: yHi }, style: whisk },
            { type: 'line', shape: { x1: cx, y1: yQ1, x2: cx, y2: yLo }, style: whisk },
            { type: 'line', shape: { x1: cx - halfCap, y1: yHi, x2: cx + halfCap, y2: yHi }, style: whisk },
            { type: 'line', shape: { x1: cx - halfCap, y1: yLo, x2: cx + halfCap, y2: yLo }, style: whisk },
            { type: 'rect', shape: { x: cx - halfBox, y: yQ3, width: halfBox * 2, height: yQ1 - yQ3 },
              style: { fill: boxColors[params.dataIndex], stroke: '#333', lineWidth: 1.5 } },
            { type: 'line', shape: { x1: cx - halfBox, y1: yMed, x2: cx + halfBox, y2: yMed },
              style: { stroke: '#333', lineWidth: 2 } },
            { type: 'text', x: cx, y: yMed - 2,
              style: { text: Math.round(med) + '%', fontFamily: FONT, fontSize: 13, fill: 'rgba(40,40,40,0.85)',
                textAlign: 'center', textVerticalAlign: 'bottom' } }
          ]
        };
      }
    }
  ]
};

chart.setOption(option);
</script>
</body>
</html>
